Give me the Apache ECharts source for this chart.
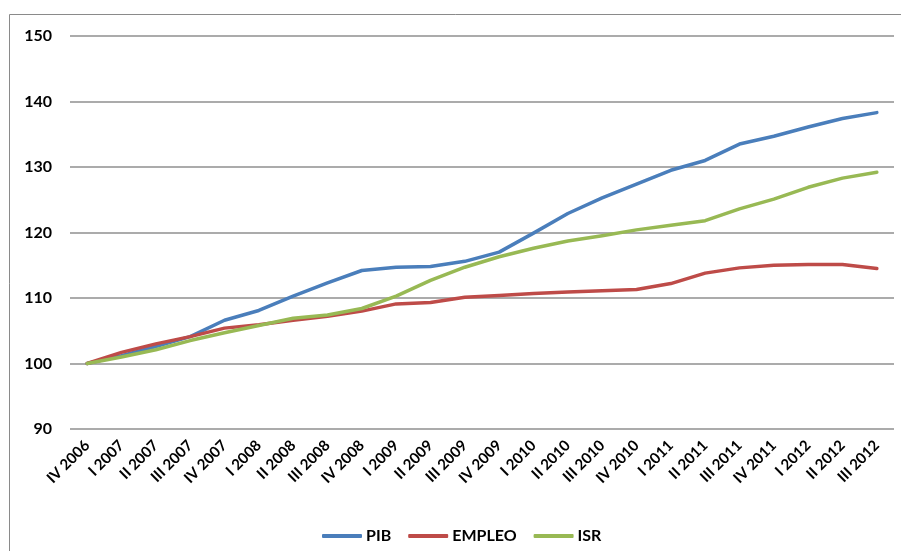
<!DOCTYPE html>
<html>
<head>
<meta charset="utf-8">
<script src="https://cdn.jsdelivr.net/npm/echarts@6/dist/echarts.min.js"></script>
<style>
  html, body { margin: 0; padding: 0; background: #fff; }
  #chart { width: 901px; height: 551px; }
</style>
</head>
<body>
<div id="chart"></div>
<script>
// Quarterly index (IV 2006 = 100)
const quarters = [
  'IV 2006', 'I 2007', 'II 2007', 'III 2007', 'IV 2007',
  'I 2008', 'II 2008', 'III 2008', 'IV 2008',
  'I 2009', 'II 2009', 'III 2009', 'IV 2009',
  'I 2010', 'II 2010', 'III 2010', 'IV 2010',
  'I 2011', 'II 2011', 'III 2011', 'IV 2011',
  'I 2012', 'II 2012', 'III 2012'
];
const pib = [100, 101.2, 102.6, 104.1, 106.6, 108.1, 110.3, 112.3, 114.2, 114.7, 114.8, 115.6,
             117.0, 119.9, 122.9, 125.3, 127.4, 129.5, 131.0, 133.5, 134.7, 136.1, 137.4, 138.3];
const empleo = [100, 101.7, 103.0, 104.1, 105.4, 105.9, 106.6, 107.2, 108.0, 109.1, 109.3, 110.1,
                110.4, 110.7, 110.9, 111.1, 111.3, 112.2, 113.8, 114.6, 115.0, 115.1, 115.1, 114.5];
const isr = [100, 101.0, 102.1, 103.5, 104.7, 105.8, 106.9, 107.4, 108.4, 110.3, 112.7, 114.7,
             116.3, 117.6, 118.7, 119.5, 120.4, 121.1, 121.8, 123.6, 125.1, 126.9, 128.3, 129.2];
const yTicks = { min: 90, max: 150, step: 10 };

const font = 'Lato, "Open Sans", sans-serif';
const chart = echarts.init(document.getElementById('chart'));

function lineSeries(name, data, color) {
  return {
    name: name,
    type: 'line',
    data: data,
    symbol: 'none',
    smooth: false,
    lineStyle: { color: color, width: 3.5, cap: 'round', join: 'round' },
    itemStyle: { color: color }
  };
}

chart.setOption({
  animation: false,
  backgroundColor: '#fff',
  graphic: [{
    type: 'rect',
    shape: { x: 9.5, y: 14.5, width: 1000, height: 1000 },
    style: { fill: 'none', stroke: '#8a8a8a', lineWidth: 1 },
    silent: true
  }],
  grid: { left: 70, right: 7, top: 36, bottom: 122, containLabel: false },
  legend: {
    left: 317,
    top: 523,
    icon: 'roundRect',
    itemWidth: 40,
    itemHeight: 4,
    itemGap: 17,
    textStyle: { fontFamily: font, fontWeight: 'bold', fontSize: 16, color: '#000', padding: [0, 0, 0, -1] },
    data: ['PIB', 'EMPLEO', 'ISR']
  },
  xAxis: {
    type: 'category',
    data: quarters,
    boundaryGap: true,
    axisLine: { show: false },
    axisTick: { show: false },
    axisLabel: {
      rotate: 45,
      interval: 0,
      margin: 14,
      fontFamily: font,
      fontWeight: 'bold',
      fontSize: 15,
      color: '#000'
    }
  },
  yAxis: {
    type: 'value',
    min: yTicks.min,
    max: yTicks.max,
    interval: yTicks.step,
    axisLine: { show: false },
    axisTick: { show: false },
    axisLabel: {
      margin: 18,
      fontFamily: font,
      fontWeight: 'bold',
      fontSize: 16,
      color: '#000'
    },
    splitLine: { lineStyle: { color: '#8f8f8f', width: 1.5 } }
  },
  series: [
    lineSeries('PIB', pib, '#4A7EBB'),
    lineSeries('EMPLEO', empleo, '#BE4B48'),
    lineSeries('ISR', isr, '#98B954')
  ]
});
</script>
</body>
</html>
